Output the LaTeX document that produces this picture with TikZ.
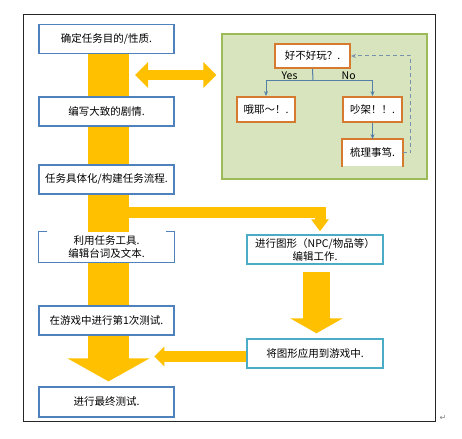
\documentclass[tikz,border=0pt]{standalone}
\usepackage{fontspec}
\setmainfont{Noto Sans CJK SC}
\newfontfamily\symfont{DejaVu Sans}
\usetikzlibrary{arrows.meta,backgrounds}
\definecolor{stepblue}{RGB}{79,129,189}
\definecolor{artblue}{RGB}{75,172,198}
\definecolor{gold}{RGB}{255,192,0}
\definecolor{testorange}{RGB}{214,122,48}
\definecolor{leafgreen}{RGB}{155,187,89}
\definecolor{leaffill}{RGB}{215,228,189}
\definecolor{treeline}{RGB}{84,128,168}
\definecolor{loopgray}{RGB}{120,145,170}

\begin{document}
\begin{tikzpicture}[
  x=1pt, y=-1pt,
  font=\fontsize{10.5}{13}\selectfont,
  task/.style={draw=stepblue, line width=1.2pt, fill=white, minimum width=135pt,
               minimum height=29pt, align=center, inner sep=1pt},
  art/.style={draw=artblue, line width=1.4pt, fill=white, minimum width=136pt,
              minimum height=29pt, align=center, inner sep=1pt},
  quest/.style={draw=testorange, line width=1.8pt, fill=white, minimum height=25pt,
                align=center, inner sep=1pt},
  tree/.style={draw=treeline, line width=1pt, -{Stealth[length=5pt,width=4pt]}},
  bar/.style={draw=gold, line width=#1}
]
  \useasboundingbox (0,0) rectangle (462,438);
  \draw[line width=1pt, black!85] (23,15) rectangle (435,421);
  % left column
  \node[task] (aim) at (106.5,39) {确定任务目的/性质.};
  \node[task] (plot) at (106.5,111.5) {编写大致的剧情.};
  \node[task] (flow) at (106.5,179.5) {任务具体化/构建任务流程.};
  \node[task, draw=none, minimum height=30pt] (lines) at (106.5,247) {利用任务工具.\\编辑台词及文本.};
  \node[task] (test1) at (106.5,320.5) {在游戏中进行第1次测试.};
  \node[task, minimum height=30pt] (final) at (106.5,402) {进行最终测试.};
  \draw[stepblue, line width=1.2pt] ([xshift=9pt]lines.north west) -- (lines.north west)
    -- (lines.south west) -- (lines.south east) -- (lines.north east) -- ([xshift=-9pt]lines.north east);
  % right column
  \node[art] (gfx) at (315,249.5) {进行图形（NPC/物品等）\\编辑工作.};
  \node[art] (apply) at (315,353.5) {将图形应用到游戏中.};
  % play test panel
  \node[draw=leafgreen, fill=leaffill, line width=1.3pt, minimum width=205pt,
        minimum height=145pt] (play) at (324.5,106.5) {};
  \node[quest, minimum width=75pt, minimum height=24pt] (fun) at (312.5,56) {好不好玩？.};
  \node[quest, minimum width=58pt] (yeah) at (266,109.5) {哦耶～！.};
  \node[quest, minimum width=59pt] (fight) at (372.5,109.5) {吵架！！.};
  \node[quest, draw=none, minimum width=59pt, minimum height=26pt] (sort) at (372.5,153) {梳理事笃.};
  \draw[testorange, line width=1.8pt] (sort.south west) -- (sort.north west)
    -- (sort.north east) -- (sort.south east);
  \coordinate (fork) at (313,81);
  \draw[treeline, line width=1pt] (fun.south) -- (fork);
  \draw[tree] (fork) -| node[pos=.25, above, inner sep=1pt]{Yes} (yeah.north);
  \draw[tree] (fork) -| node[pos=.3, above, inner sep=1pt]{No} (fight.north);
  \draw[tree] (fight) -- (sort);
  \draw[loopgray, line width=1pt, dash pattern=on 4pt off 3pt,
        -{Stealth[length=5pt,width=4pt]}] (sort.east) -- ++(8,0) |- (fun.east);
  % yellow arrows
  \coordinate (link) at (130,75);
  \coordinate (split) at (120,212.5);
  \begin{scope}[on background layer]
    \draw[bar=41pt, -{Triangle[width=81pt,length=23pt]}, shorten >=5pt]
      ([xshift=2pt]aim.center) -- ([xshift=2pt]final.north);
    \draw[bar=10pt, {Triangle[width=25pt,length=13pt]}-{Triangle[width=25pt,length=13pt]},
      shorten <=5pt, shorten >=5pt] (link) -- (link -| play.west);
    \draw[bar=11pt, -{Triangle[width=17pt,length=12pt]}, shorten >=3pt]
      (split) -| ([xshift=5pt]gfx.north);
    \draw[bar=27pt, -{Triangle[width=52pt,length=15pt]}, shorten <=7pt, shorten >=5pt]
      ([xshift=1.5pt]gfx.south) -- ([xshift=1.5pt]apply.north);
    \draw[bar=11pt, -{Triangle[width=19pt,length=10pt]}]
      ([yshift=-3pt]apply.west) -- ++(-92,0);
  \end{scope}
  \node[font=\symfont\fontsize{8}{9}\selectfont, text=gray] (mark) at (443,418) {↵};
\end{tikzpicture}
\end{document}
